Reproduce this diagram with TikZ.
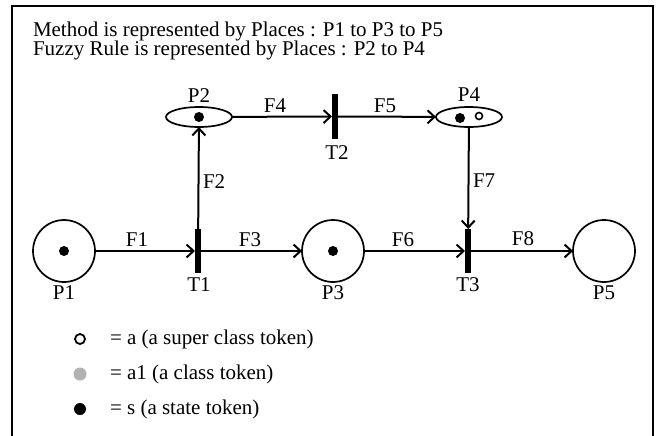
\documentclass[tikz,border=0pt]{standalone}
\usepackage{fontspec}
\setmainfont{Liberation Serif}
\usetikzlibrary{shapes.geometric,arrows.meta}
\begin{document}
\begin{tikzpicture}[x=1pt,y=-1pt,
  every node/.style={font=\fontsize{21}{24}\selectfont, inner sep=0pt, outer sep=0pt},
  place/.style={circle, draw, line width=1.7pt, minimum size=62pt},
  flat/.style={ellipse, draw, line width=1.7pt, minimum width=66pt, minimum height=20pt},
  trans/.style={rectangle, fill=black, minimum width=6pt, minimum height=44pt},
  tok/.style={circle, fill=black, minimum size=10pt},
  otok/.style={circle, draw, line width=1.6pt, minimum size=7pt},
  ltok/.style={circle, minimum size=12pt},
  arc/.style={line width=2pt, -{Straight Barb[length=7pt,width=13pt]}},
  frame/.style={line width=2pt}
]
\useasboundingbox (0,0) rectangle (659,436);
\draw[frame] (12,436) -- (12,6) -- (653,6) -- (653,436);

\node[anchor=base west] (title1) at (33,37) {Method is represented by Places : P1 to P3 to P5};
\node[anchor=base west] (title2) at (33,56) {Fuzzy Rule is represented by Places : P2 to P4};

% upper row
\node[flat] (P2) at (199,117) {};
\node[tok] (P2a) at (199,117) {};
\node (P2l) at (199,96) {P2};
\node[trans] (T2) at (335,116.5) {};
\node (T2l) at (337,153) {T2};
\node[flat] (P4) at (469,117) {};
\node[tok] (P4a) at (460,118) {};
\node[otok] (P4b) at (479,116) {};
\node (P4l) at (469,95) {P4};

% lower row
\node[place] (P1) at (64,251) {};
\node[tok] (P1a) at (64,251) {};
\node (P1l) at (64,293) {P1};
\node[trans] (T1) at (198,251) {};
\node (T1l) at (199,285) {T1};
\node[place] (P3) at (333,251) {};
\node[tok] (P3a) at (333,251) {};
\node (P3l) at (333,293) {P3};
\node[trans] (T3) at (468,251) {};
\node (T3l) at (468,285) {T3};
\node[place] (P5) at (604,251) {};
\node (P5l) at (604,293) {P5};

% arcs
\draw[arc] (P1) -- (T1);
\draw[arc] (T1) -- (P2);
\draw[arc] (T1) -- (P3);
\draw[arc] (P2) -- (T2);
\draw[arc] (T2) -- (P4);
\draw[arc] (P3) -- (T3);
\draw[arc] (P4) -- (T3);
\draw[arc] (T3) -- (P5);

% arc labels
\node (F1) at (137,240) {F1};
\node[anchor=west] (F2) at (203,182) {F2};
\node (F3) at (250,240) {F3};
\node (F4) at (275,106) {F4};
\node (F5) at (385,106) {F5};
\node (F6) at (403,240) {F6};
\node[anchor=west] (F7) at (473,181) {F7};
\node (F8) at (523,239) {F8};

% legend
\node[ltok, draw, line width=1.8pt, minimum size=10pt] (L1) at (80,339) {};
\node[ltok, fill=gray!60, minimum size=13pt] (L2) at (80,374) {};
\node[ltok, fill=black] (L3) at (80,409) {};
\node[anchor=west] (L1t) at (110,339) {= a (a super class token)};
\node[anchor=west] (L2t) at (110,374) {= a1 (a class token)};
\node[anchor=west] (L3t) at (110,409) {= s (a state token)};
\end{tikzpicture}
\end{document}
